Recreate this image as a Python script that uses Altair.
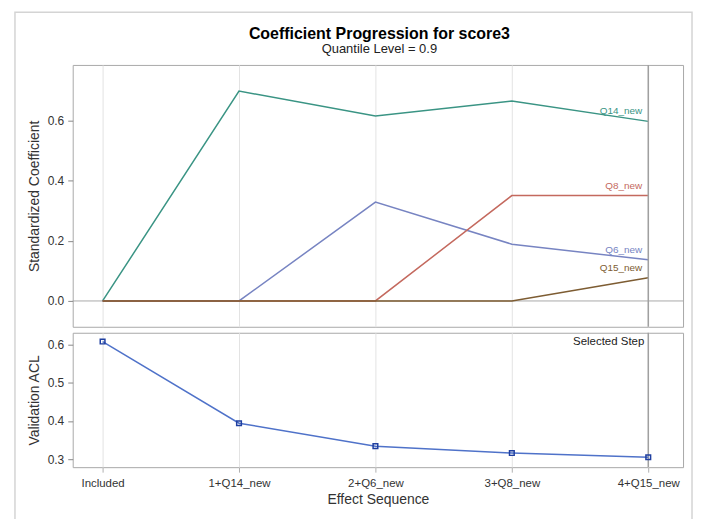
import altair as alt
import pandas as pd

steps = ["Included", "1+Q14_new", "2+Q6_new", "3+Q8_new", "4+Q15_new"]
effects = ["Q14_new", "Q6_new", "Q8_new", "Q15_new"]
q14 = [0.0, 0.699, 0.616, 0.666, 0.598]
q6 = [0.0, 0.0, 0.329, 0.189, 0.137]
q8 = [0.0, 0.0, 0.0, 0.351, 0.351]
q15 = [0.0, 0.0, 0.0, 0.0, 0.077]
acl = [0.608, 0.394, 0.334, 0.316, 0.305]
colors = ["#3a9484", "#7784c2", "#c4695e", "#7d5c32"]
selected_step = 4
title_text = "Coefficient Progression for score3"
subtitle_text = "Quantile Level = 0.9"

FONT = "Liberation Sans"
W = 613
H_TOP = 263
H_BOT = 135
X_DOM = [-0.219, 4.255]

rows = []
for name, vals in zip(effects, [q14, q6, q8, q15]):
    for i, v in enumerate(vals):
        rows.append({"idx": i, "step": steps[i], "effect": name, "coef": v})
coef_df = pd.DataFrame(rows)
acl_df = pd.DataFrame({"idx": list(range(len(steps))), "step": steps, "acl": acl})
sel_df = pd.DataFrame({"idx": [selected_step]})

label_expr = "[" + ",".join("'%s'" % s for s in steps) + "][datum.value]"

x_top = alt.X("idx:Q", scale=alt.Scale(domain=X_DOM, nice=False, zero=False),
              axis=alt.Axis(values=list(range(len(steps))), labels=False, ticks=False,
                            domain=False, title=None, grid=True, gridColor="#e3e3e3"))
x_bot = alt.X("idx:Q", scale=alt.Scale(domain=X_DOM, nice=False, zero=False),
              axis=alt.Axis(values=list(range(len(steps))), labelExpr=label_expr,
                            ticks=True, tickColor="#b0b0b0", tickSize=5,
                            domain=False, title="Effect Sequence",
                            grid=True, gridColor="#e3e3e3", labelPadding=5,
                            labelFontSize=11.5, titlePadding=4))

color_scale = alt.Scale(domain=effects, range=colors)

base_top = alt.Chart(coef_df)

zero_rule = alt.Chart(pd.DataFrame({"z": [0.0]})).mark_rule(
    color="#a8a8a8", strokeWidth=1).encode(y=alt.Y("z:Q"))

lines = base_top.mark_line(strokeWidth=1.5).encode(
    x=x_top,
    y=alt.Y("coef:Q", scale=alt.Scale(domain=[-0.086, 0.786], nice=False, zero=False),
            axis=alt.Axis(values=[0, 0.2, 0.4, 0.6], format=".1f", grid=False,
                          title="Standardized Coefficient", domain=False)),
    color=alt.Color("effect:N", scale=color_scale, legend=None),
    detail="effect:N",
)

labels = base_top.transform_filter(alt.datum.idx == selected_step).mark_text(
    align="right", baseline="alphabetic", dx=-6, dy=-7, fontSize=10, font=FONT
).encode(
    x="idx:Q", y="coef:Q", text="effect:N",
    color=alt.Color("effect:N", scale=color_scale, legend=None),
)

sel_rule_top = alt.Chart(sel_df).mark_rule(color="#a0a0a0", strokeWidth=1.5).encode(x="idx:Q")

border = alt.Chart(sel_df).mark_rect(fill=None, stroke="#d4d4d4", strokeWidth=1.5).encode(
    x=alt.value(-58), x2=alt.value(622), y=alt.value(-53), y2=alt.value(480))

title_mark = alt.Chart(sel_df).mark_text(
    align="center", baseline="alphabetic", fontSize=16, fontWeight="bold",
    font=FONT, color="#000").encode(
    x=alt.value(308), y=alt.value(-26.5), text=alt.value(title_text))
subtitle_mark = alt.Chart(sel_df).mark_text(
    align="center", baseline="alphabetic", fontSize=13,
    font=FONT, color="#222").encode(
    x=alt.value(308), y=alt.value(-11.5), text=alt.value(subtitle_text))

top = alt.layer(border, title_mark, subtitle_mark, zero_rule, lines, sel_rule_top,
                labels).properties(width=W, height=H_TOP)

acl_line = alt.Chart(acl_df).mark_line(color="#4f72c9", strokeWidth=1.5).encode(
    x=x_bot,
    y=alt.Y("acl:Q", scale=alt.Scale(domain=[0.279, 0.631], nice=False, zero=False),
            axis=alt.Axis(values=[0.3, 0.4, 0.5, 0.6], format=".1f", grid=False,
                          title="Validation ACL", domain=False)),
)
acl_pts = alt.Chart(acl_df).mark_point(shape="square", filled=False, color="#1f3fa0",
                                       strokeWidth=1.5, size=22, opacity=1).encode(
    x="idx:Q", y="acl:Q")
sel_rule_bot = alt.Chart(sel_df).mark_rule(color="#a0a0a0", strokeWidth=1.5).encode(x="idx:Q")
sel_text = alt.Chart(sel_df).mark_text(align="right", baseline="top", dx=-4, fontSize=11.5,
                                       font=FONT, color="#222").encode(
    x="idx:Q", y=alt.value(3), text=alt.value("Selected Step"))

bottom = alt.layer(sel_rule_bot, acl_line, acl_pts, sel_text).properties(
    width=W, height=H_BOT)

chart = alt.vconcat(top, bottom, spacing=6, bounds="flush").properties(
    padding={"left": 5, "top": 1, "right": 0, "bottom": 0},
    background="white",
).configure_view(stroke="#a8a8a8", strokeWidth=1).configure_axis(
    labelFont=FONT, titleFont=FONT, labelFontSize=12, titleFontSize=14,
    labelColor="#333", titleColor="#333", titleFontWeight="normal",
    tickColor="#888", tickSize=5, labelPadding=4, titlePadding=6,
)

chart.save("out.html", embed_options={"renderer": "svg", "actions": False})
